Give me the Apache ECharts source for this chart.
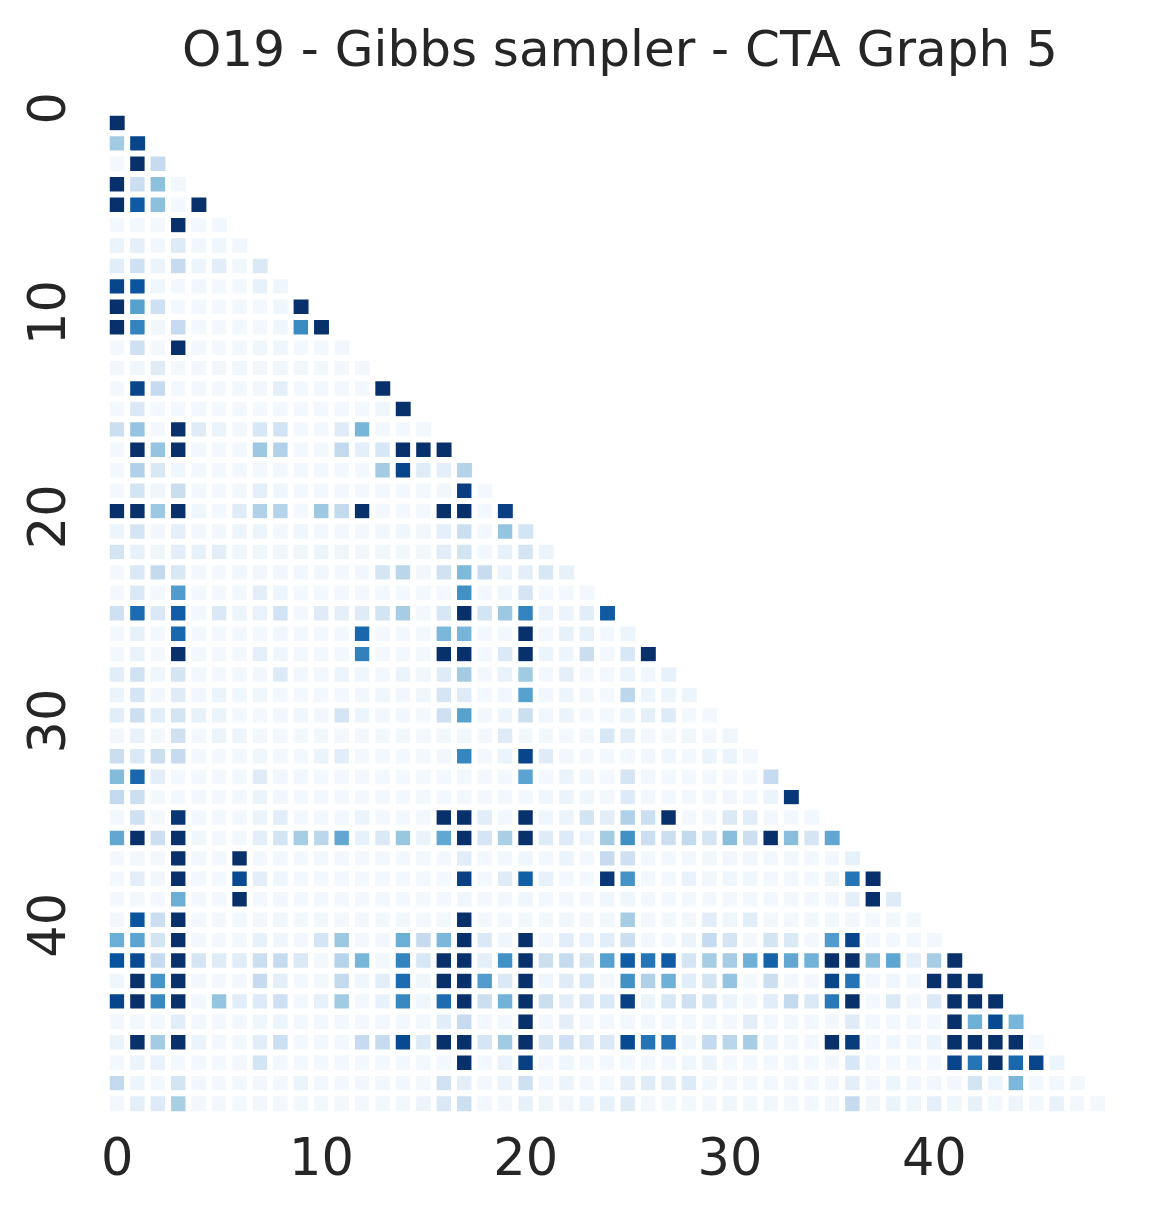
<!DOCTYPE html>
<html>
<head>
<meta charset="utf-8">
<title>O19 - Gibbs sampler - CTA Graph 5</title>
<script src="https://cdn.jsdelivr.net/npm/echarts@6/dist/echarts.min.js"></script>
<style>
  html, body { margin: 0; padding: 0; background: #fff; }
  #chart { width: 1158px; height: 1221px; }
</style>
</head>
<body>
<div id="chart"></div>
<script>
// Matrice triangolare inferiore (diagonale inclusa), valori letti a occhio, scala 0-100
const TITLE = 'O19 - Gibbs sampler - CTA Graph 5';
const NODES = ['0', '1', '2', '3', '4', '5', '6', '7', '8', '9', '10', '11', '12', '13', '14', '15', '16',
  '17', '18', '19', '20', '21', '22', '23', '24', '25', '26', '27', '28', '29', '30', '31', '32',
  '33', '34', '35', '36', '37', '38', '39', '40', '41', '42', '43', '44', '45', '46', '47', '48'];

// colormap "Blues"
const BLUES = ['#f7fbff', '#deebf7', '#c6dbef', '#9ecae1', '#6baed6', '#4292c6', '#2171b5', '#08519c', '#08306b'];

const rows = [
  [100],
  [37, 92],
  [2, 100, 25],
  [100, 22, 42, 2],
  [100, 84, 42, 2, 100],
  [2, 2, 2, 100, 2, 3],
  [6, 9, 3, 13, 3, 4, 3],
  [11, 21, 6, 25, 5, 11, 3, 14],
  [92, 86, 4, 2, 3, 2, 2, 8, 4],
  [100, 56, 21, 2, 2, 2, 2, 2, 4, 100],
  [100, 68, 3, 25, 2, 2, 2, 2, 4, 65, 100],
  [2, 21, 2, 100, 2, 2, 2, 4, 4, 2, 2, 3],
  [2, 4, 12, 2, 2, 3, 3, 3, 4, 3, 2, 2, 2],
  [2, 92, 25, 2, 2, 2, 2, 3, 9, 2, 2, 2, 2, 100],
  [2, 14, 2, 2, 2, 2, 2, 2, 2, 2, 2, 2, 2, 4, 100],
  [22, 40, 2, 100, 12, 6, 2, 16, 19, 2, 2, 12, 47, 2, 2, 2],
  [2, 100, 40, 100, 2, 2, 2, 38, 32, 2, 2, 26, 9, 16, 100, 100, 100],
  [2, 32, 15, 4, 2, 2, 2, 2, 2, 2, 2, 2, 2, 36, 92, 12, 9, 30],
  [2, 18, 4, 23, 2, 2, 2, 9, 4, 2, 2, 2, 2, 2, 2, 2, 3, 95, 2],
  [100, 100, 38, 100, 4, 2, 12, 32, 30, 2, 38, 26, 100, 2, 2, 2, 100, 100, 2, 94],
  [5, 17, 3, 9, 2, 3, 5, 5, 2, 4, 2, 2, 2, 3, 4, 3, 9, 22, 2, 40, 18],
  [18, 8, 4, 11, 8, 10, 4, 4, 4, 4, 5, 4, 3, 3, 2, 3, 11, 18, 2, 8, 18, 5],
  [2, 14, 26, 15, 2, 2, 3, 3, 3, 3, 3, 2, 3, 17, 29, 3, 20, 45, 24, 6, 10, 16, 8],
  [2, 14, 2, 58, 2, 2, 2, 10, 5, 2, 2, 2, 2, 2, 2, 2, 2, 63, 2, 4, 17, 2, 2, 2],
  [21, 77, 14, 83, 2, 14, 5, 7, 19, 2, 12, 9, 12, 18, 35, 2, 16, 100, 18, 38, 68, 7, 6, 11, 84],
  [2, 8, 2, 79, 2, 2, 2, 2, 3, 2, 2, 2, 79, 2, 2, 2, 46, 47, 2, 2, 100, 2, 8, 8, 2, 5],
  [2, 7, 2, 100, 2, 2, 2, 9, 4, 2, 2, 2, 69, 2, 2, 2, 100, 100, 2, 14, 100, 6, 5, 23, 2, 16, 100],
  [11, 20, 4, 18, 2, 2, 2, 3, 13, 3, 2, 5, 4, 2, 6, 3, 12, 36, 2, 7, 37, 2, 9, 2, 2, 6, 3, 8],
  [6, 17, 3, 12, 3, 6, 4, 4, 2, 2, 2, 2, 3, 4, 3, 4, 17, 12, 2, 3, 56, 3, 5, 3, 2, 28, 5, 5, 5],
  [11, 22, 11, 18, 8, 6, 2, 2, 3, 4, 3, 17, 5, 3, 3, 2, 21, 56, 3, 5, 22, 3, 6, 2, 2, 6, 9, 13, 2, 2],
  [2, 7, 2, 20, 2, 6, 5, 2, 2, 2, 2, 2, 2, 2, 2, 2, 2, 3, 2, 12, 2, 2, 2, 2, 16, 11, 2, 2, 4, 2, 4],
  [23, 14, 23, 25, 2, 2, 2, 4, 2, 2, 6, 11, 2, 2, 2, 2, 3, 67, 2, 6, 92, 12, 3, 2, 2, 2, 3, 4, 2, 6, 6, 2],
  [44, 79, 10, 2, 2, 2, 2, 12, 3, 3, 2, 2, 2, 2, 2, 2, 2, 2, 2, 2, 55, 2, 6, 4, 2, 17, 2, 2, 2, 2, 2, 2, 25],
  [26, 22, 2, 2, 2, 2, 2, 6, 3, 2, 2, 2, 2, 2, 2, 2, 2, 2, 2, 2, 2, 4, 6, 4, 2, 13, 2, 2, 2, 2, 3, 2, 6, 97],
  [2, 21, 2, 98, 2, 2, 2, 6, 11, 2, 2, 2, 6, 2, 2, 2, 100, 100, 11, 2, 100, 4, 6, 18, 10, 32, 22, 100, 2, 2, 14, 11, 2, 2, 2],
  [53, 100, 22, 100, 4, 2, 2, 10, 18, 35, 28, 53, 8, 14, 39, 6, 53, 100, 17, 34, 100, 12, 13, 6, 36, 63, 22, 22, 26, 17, 43, 22, 100, 43, 17, 53],
  [2, 2, 2, 100, 2, 2, 100, 2, 2, 2, 2, 2, 2, 2, 2, 2, 2, 11, 2, 2, 4, 2, 6, 2, 25, 21, 2, 2, 2, 3, 3, 3, 2, 2, 2, 2, 8],
  [2, 10, 3, 100, 2, 2, 90, 10, 4, 2, 2, 2, 2, 2, 2, 2, 2, 94, 2, 12, 82, 8, 2, 2, 97, 62, 2, 2, 7, 3, 4, 4, 2, 2, 2, 6, 74, 100],
  [2, 2, 2, 50, 2, 2, 100, 2, 3, 2, 2, 2, 2, 2, 2, 2, 2, 4, 2, 2, 4, 2, 2, 2, 4, 4, 2, 2, 2, 2, 2, 2, 2, 2, 2, 2, 9, 100, 12],
  [2, 86, 22, 100, 2, 2, 2, 2, 4, 2, 2, 2, 2, 2, 2, 2, 2,
    100, 2, 2, 2, 2, 4, 2, 2, 35, 2, 2, 2, 11, 4, 11, 2,
    2, 2, 2, 2, 2, 2, 2],
  [50, 55, 18, 100, 2, 2, 2, 8, 4, 2, 17, 38, 2, 3, 50, 25, 46,
    100, 14, 4, 100, 2, 11, 7, 11, 22, 2, 2, 6, 25, 17, 2, 18,
    14, 2, 58, 92, 2, 2, 2, 2],
  [87, 90, 25, 100, 17, 12, 11, 22, 25, 14, 2, 30, 47, 2, 68, 16, 100,
    100, 9, 63, 100, 22, 25, 18, 56, 83, 74, 84, 17, 35, 35, 49, 81,
    53, 48, 100, 100, 43, 54, 9, 35, 100],
  [4, 100, 61, 100, 2, 2, 2, 25, 10, 2, 2, 26, 4, 10, 77, 4, 100,
    100, 58, 14, 100, 4, 12, 16, 2, 63, 32, 49, 11, 18, 40, 2, 22,
    2, 2, 92, 74, 2, 4, 2, 100, 100, 100],
  [92, 100, 66, 100, 2, 40, 11, 13, 21, 2, 8, 37, 2, 8, 66, 4, 77,
    100, 22, 48, 100, 22, 10, 14, 14, 94, 6, 16, 21, 17, 6, 2, 11,
    26, 14, 72, 100, 2, 14, 2, 14, 100, 100, 100],
  [2, 2, 2, 11, 2, 2, 2, 4, 5, 2, 2, 2, 2, 2, 2, 2, 11,
    25, 2, 2, 100, 2, 10, 2, 2, 2, 2, 2, 2, 2, 2, 10, 2,
    2, 2, 2, 12, 2, 2, 2, 2, 100, 49, 90, 47],
  [6, 100, 36, 100, 6, 2, 2, 11, 22, 2, 2, 2, 25, 25, 90, 13, 100,
    100, 17, 37, 100, 17, 21, 14, 14, 90, 74, 74, 4, 26, 29, 35, 6,
    2, 2, 100, 96, 2, 4, 2, 6, 100, 100, 100, 100, 2],
  [2, 6, 7, 2, 2, 2, 2, 18, 2, 2, 2, 2, 2, 2, 2, 2, 2,
    100, 2, 7, 94, 2, 4, 2, 2, 2, 2, 2, 4, 6, 2, 2, 2,
    2, 2, 2, 16, 2, 2, 2, 2, 92, 74, 100, 79, 92, 5],
  [26, 5, 2, 18, 3, 2, 2, 3, 2, 6, 2, 2, 3, 3, 3, 2, 20,
    10, 2, 6, 21, 2, 6, 2, 2, 10, 12, 10, 13, 3, 2, 2, 2,
    2, 2, 2, 10, 3, 5, 3, 3, 3, 18, 5, 46, 2, 3, 2],
  [2, 10, 13, 34, 2, 2, 2, 3, 2, 2, 2, 2, 2, 2, 2, 5, 14,
    22, 2, 2, 8, 4, 3, 5, 8, 12, 2, 2, 2, 2, 4, 2, 3,
    2, 2, 2, 25, 4, 6, 4, 9, 4, 8, 2, 5, 2, 7, 2, 2]
];

// solo metà inferiore: la parte mascherata resta bianca
const cells = [];
rows.forEach((row, y) => row.forEach((v, x) => cells.push([x, y, v])));

const FONT = 'DejaVu Sans';
const INK = '#262626';

const chart = echarts.init(document.getElementById('chart'));
chart.setOption({
  backgroundColor: '#ffffff',
  animation: false,
  title: {
    text: TITLE, left: 177, top: 23,
    textStyle: { fontFamily: FONT, fontSize: 50, fontWeight: 'normal', color: INK }
  },
  grid: { left: 107, top: 113, width: 1001, height: 1001 },
  xAxis: {
    type: 'category', data: NODES, position: 'bottom',
    axisLine: { show: false }, axisTick: { show: false }, splitLine: { show: false },
    axisLabel: { interval: 9, margin: 22, fontFamily: FONT, fontSize: 51, color: INK }
  },
  yAxis: {
    type: 'category', data: NODES, inverse: true,
    axisLine: { show: false }, axisTick: { show: false }, splitLine: { show: false },
    axisLabel: { interval: 9, rotate: 90, margin: 30, padding: [0, 0, 0, 30],
      fontFamily: FONT, fontSize: 51, color: INK }
  },
  visualMap: {
    show: false, type: 'continuous', min: 0, max: 100, dimension: 2,
    inRange: { color: BLUES }
  },
  series: [{
    type: 'heatmap', data: cells,
    itemStyle: { borderColor: '#ffffff', borderWidth: 6 },
    emphasis: { disabled: true }
  }]
});

window.addEventListener('resize', () => chart.resize());
</script>
</body>
</html>
